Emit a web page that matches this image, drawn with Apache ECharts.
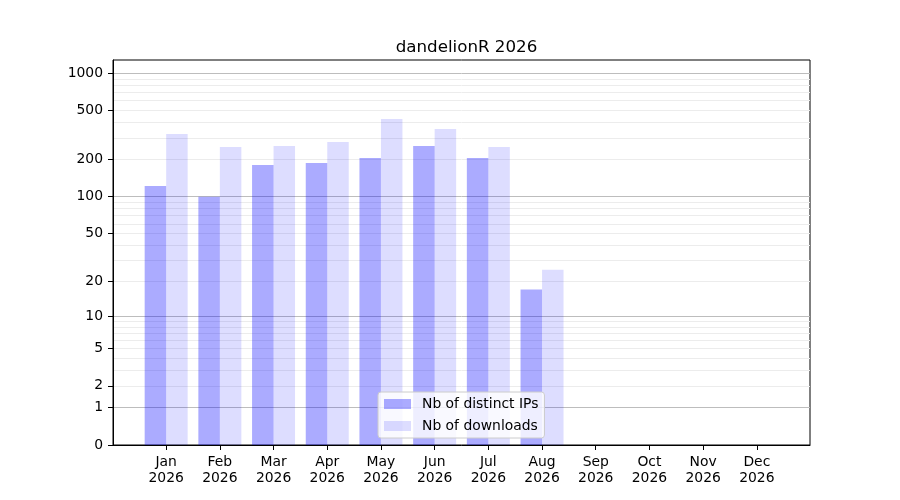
<!doctype html>
<html lang="en">

<head>
    <title>dandelionR 2026</title>
    <meta charset="utf-8">
    <script src="https://cdn.jsdelivr.net/npm/echarts@6/dist/echarts.min.js"></script>
    <style>
        html, body { margin: 0; padding: 0; background: #fff; }
        #mychart { width: 900px; height: 500px; }
    </style>
</head>

<body>
    <div id="mychart"></div>

    <script type="text/javascript">
        // data
        var months = ['Jan', 'Feb', 'Mar', 'Apr', 'May', 'Jun', 'Jul', 'Aug', 'Sep', 'Oct', 'Nov', 'Dec'];
        var year = '2026';
        var distinctIPs = [122, 100, 181, 188, 206, 258, 206, 17];
        var downloads = [323, 253, 258, 278, 427, 354, 253, 25];
        var yTickLabels = [0, 1, 2, 5, 10, 20, 50, 100, 200, 500, 1000];
        var yGridValues = [1, 2, 3, 4, 5, 6, 7, 8, 9, 10, 20, 30, 40, 50, 60, 70, 80, 90,
                           100, 200, 300, 400, 500, 600, 700, 800, 900, 1000];
        var yMaxValue = 1278;

        // the y axis is log10(v + 1)
        function tr(v) { return Math.log10(v + 1); }
        function toPoints(arr) {
            return arr.map(function (v, i) { return [i, tr(v)]; });
        }
        var monthIdx = months.map(function (m, i) { return i; });
        var gridColors = yGridValues.map(function (v) {
            return Math.abs(Math.log10(v) % 1) < 1e-9 ? '#bdbdbd' : '#ececec';
        });

        var font = 'DejaVu Sans';
        var myChart = echarts.init(document.getElementById('mychart'));
        var option = {
            animation: false,
            textStyle: { fontFamily: font },
            title: {
                text: 'dandelionR 2026',
                left: 461.5,
                textAlign: 'center',
                top: 34,
                textStyle: { fontFamily: font, fontWeight: 'normal', fontSize: 16.7, color: '#000' }
            },
            grid: {
                left: 113, right: 90, top: 60, bottom: 55,
                show: true, borderColor: '#000', borderWidth: 1, backgroundColor: 'transparent'
            },
            legend: {
                orient: 'vertical',
                left: 378,
                top: 392,
                padding: [5, 6, 5, 6],
                itemGap: 8,
                itemWidth: 27,
                itemHeight: 10,
                icon: 'rect',
                backgroundColor: 'rgba(255,255,255,0.8)',
                borderColor: '#cccccc',
                borderWidth: 1,
                borderRadius: 3,
                textStyle: { fontFamily: font, fontSize: 13.9, color: '#000', padding: [0, 0, 0, 6] },
                data: ['Nb of distinct IPs', 'Nb of downloads']
            },
            xAxis: {
                type: 'value',
                min: -0.99,
                max: 11.99,
                axisLine: { show: true, onZero: false, lineStyle: { color: '#000' } },
                axisTick: { show: true, length: 5, customValues: monthIdx, lineStyle: { color: '#000' } },
                axisLabel: {
                    customValues: monthIdx,
                    margin: 9,
                    fontFamily: font,
                    fontSize: 13.9,
                    lineHeight: 16,
                    color: '#000',
                    formatter: function (v) { return months[Math.round(v)] + '\n' + year; }
                },
                splitLine: { show: false }
            },
            yAxis: [
                {
                    type: 'value',
                    min: 0,
                    max: tr(yMaxValue),
                    axisLine: { show: true, onZero: false, lineStyle: { color: '#000' } },
                    axisTick: { show: true, length: 5, customValues: yTickLabels.map(tr), lineStyle: { color: '#000' } },
                    axisLabel: {
                        customValues: yTickLabels.map(tr),
                        margin: 10,
                        fontFamily: font,
                        fontSize: 13.9,
                        color: '#000',
                        formatter: function (v) { return String(Math.round(Math.pow(10, v) - 1)); }
                    },
                    splitLine: { show: false }
                },
                {
                    type: 'value',
                    position: 'right',
                    min: 0,
                    max: tr(yMaxValue),
                    axisLine: { show: false, onZero: false },
                    axisTick: { show: false, customValues: yGridValues.map(tr) },
                    axisLabel: { show: false },
                    splitLine: { show: true, lineStyle: { color: gridColors, width: 1 } }
                }
            ],
            series: [
                {
                    name: 'Nb of distinct IPs',
                    type: 'bar',
                    yAxisIndex: 0,
                    barWidth: 21.5,
                    barGap: '0%',
                    itemStyle: { color: 'rgba(0,0,255,0.33)' },
                    data: toPoints(distinctIPs)
                },
                {
                    name: 'Nb of downloads',
                    type: 'bar',
                    yAxisIndex: 0,
                    barWidth: 21.5,
                    barGap: '0%',
                    itemStyle: { color: 'rgba(0,0,255,0.135)' },
                    data: toPoints(downloads)
                }
            ]
        };
        myChart.setOption(option);
    </script>
</body>

</html>
